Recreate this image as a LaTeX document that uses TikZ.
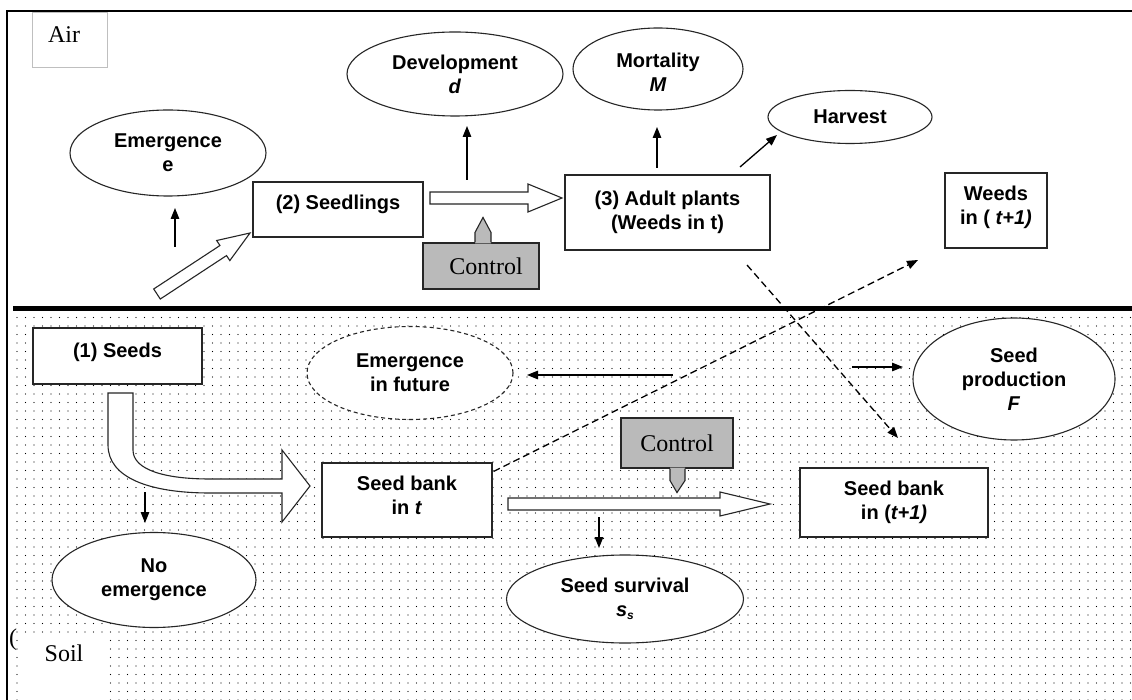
\documentclass[tikz,border=0pt]{standalone}
\usepackage{fontspec}
\setmainfont{Liberation Serif}
\newfontfamily\arialf{Liberation Sans}
\usetikzlibrary{shapes.geometric,arrows.meta,calc,patterns.meta}
\newcommand\hollowarrow[5]{%
  \coordinate (hb) at ($(#2)!#5!(#1)$);
  \draw[hollow] ($(#1)!#3!90:(#2)$) -- ($(hb)!#3!90:(#2)$) -- ($(hb)!#4!90:(#2)$) -- (#2)
    -- ($(hb)!#4!-90:(#2)$) -- ($(hb)!#3!-90:(#2)$) -- ($(#1)!#3!-90:(#2)$) -- cycle;}
\begin{document}
\begin{tikzpicture}[x=1pt,y=-1pt,
  outl/.style={draw=black!85,line width=1.1pt},
  box/.style={outl,fill=white,rectangle,inner sep=0pt,align=center,font=\arialf\bfseries\fontsize{20}{24}\selectfont},
  ell/.style={box,ellipse},
  dell/.style={ell,dash pattern=on 4pt off 3pt},
  arr/.style={draw=black,line width=1.3pt,-{Triangle[length=11pt,width=8.5pt]}},
  dsh/.style={arr,dash pattern=on 7pt off 4pt},
  hollow/.style={outl,fill=white,line join=miter},
  ctrl/.style={outl,fill=black!27,inner sep=0pt,font=\fontsize{24}{28}\selectfont},
  lbl/.style={inner sep=0pt,font=\fontsize{24}{28}\selectfont}
]
\useasboundingbox (0,0) rectangle (1132,700);
\fill[white] (0,0) rectangle (1132,700);
% soil
\fill[pattern={Dots[distance=8.5pt,radius=0.7pt]},pattern color=black] (13,312) rectangle (1132,700);
\draw[line width=5pt] (13,309) -- (1132,309);
\draw[line width=1.5pt] (7,700) -- (7,11) -- (1132,11);

% labels
\draw[draw=black!25,fill=white] (32,12) rectangle (107,67);
\node[lbl] (air) at (64,35) {Air};
\fill[white] (22,635) rectangle (103,700);
\node[lbl] (soil) at (64,653) {Soil};
\node[lbl,anchor=west] (stray) at (9,640) {(};

% air nodes
\node[ell,minimum width=196pt,minimum height=86pt] (emerg) at (168,153) {Emergence\\e};
\node[ell,minimum width=216pt,minimum height=84pt] (devel) at (455,74) {Development\\\textit{d}};
\node[ell,minimum width=170pt,minimum height=82pt,text height=46pt] (mort) at (658,69) {Mortality\\\textit{M}};
\node[ell,minimum width=164pt,minimum height=53pt] (harv) at (850,117) {Harvest};
\node[box,minimum width=170pt,minimum height=55pt,text depth=14pt] (seedl) at (338,209.5) {(2) Seedlings};
\node[box,minimum width=205pt,minimum height=75pt] (adult) at (667.5,212.5) {(3) Adult plants\\(Weeds in t)};
\node[box,minimum width=102pt,minimum height=75pt,text depth=10pt] (weeds) at (996,210.5) {Weeds\\in ( \textit{t+1)}};
\node[ctrl,minimum width=116pt,minimum height=46pt] (ctrl1) at (481,266) {\hspace*{10pt}Control};

% soil nodes
\node[box,minimum width=169pt,minimum height=56pt,text depth=12pt] (seeds) at (117.5,356) {(1) Seeds};
\node[ell,minimum width=204pt,minimum height=95pt] (noem) at (154,580) {No\\emergence};
\node[dell,minimum width=206pt,minimum height=93pt] (fut) at (410,373) {Emergence\\in future};
\node[box,minimum width=170pt,minimum height=74pt,text depth=9pt] (sbt) at (407,500) {Seed bank\\in \textit{t}};
\node[box,minimum width=188pt,minimum height=69pt] (sbt1) at (894,502.5) {Seed bank\\in (\textit{t+1)}};
\node[ell,minimum width=237pt,minimum height=88pt] (surv) at (625,599) {Seed survival\\\textit{s}{\fontsize{12}{12}\selectfont\raisebox{-3pt}{\textit{s}}}};
\node[ell,minimum width=202pt,minimum height=122pt] (prod) at (1014,379) {Seed\\production\\\textit{F}};
\node[ctrl,minimum width=112pt,minimum height=50pt] (ctrl2) at (677,443) {Control};

% callout pointers
\fill[black!27] ($(ctrl1.north)+(-6,1)$) -- ++(0,-11) -- ($(ctrl1.north)+(2,-25)$) -- ($(ctrl1.north)+(10,-10)$) -- ($(ctrl1.north)+(10,1)$) -- cycle;
\draw[outl] ($(ctrl1.north)+(-6,0)$) -- ++(0,-10) -- ($(ctrl1.north)+(2,-25)$) -- ($(ctrl1.north)+(10,-10)$) -- ($(ctrl1.north)+(10,0)$);
\fill[black!27] ($(ctrl2.south)+(-7,-1)$) -- ++(0,13) -- ($(ctrl2.south)+(0,24)$) -- ($(ctrl2.south)+(8,12)$) -- ($(ctrl2.south)+(8,-1)$) -- cycle;
\draw[outl] ($(ctrl2.south)+(-7,0)$) -- ++(0,12) -- ($(ctrl2.south)+(0,24)$) -- ($(ctrl2.south)+(8,12)$) -- ($(ctrl2.south)+(8,0)$);

% hollow arrows
\coordinate (h1s) at (157,294); \coordinate (h1e) at (250,233);
\hollowarrow{h1s}{h1e}{6pt}{12pt}{32pt}
\coordinate (h2s) at (430,198); \coordinate (h2e) at (562,198);
\hollowarrow{h2s}{h2e}{6pt}{14pt}{34pt}
\coordinate (h3s) at (508,504); \coordinate (h3e) at (770,504);
\hollowarrow{h3s}{h3e}{6pt}{12pt}{50pt}
\draw[hollow] (108,393) -- (108,445) .. controls (108,478) and (150,493) .. (210,493) -- (282,493) -- (282,522) -- (310,486) -- (282,450) -- (282,479) -- (210,479) .. controls (165,479) and (133,470) .. (133,450) -- (133,393) -- cycle;

% thin arrows
\coordinate (a1s) at (175,247); \coordinate (a1e) at (175,208);
\draw[arr] (a1s) -- (a1e);
\coordinate (a2s) at (467,180); \coordinate (a2e) at (467,126);
\draw[arr] (a2s) -- (a2e);
\coordinate (a3s) at (657,168); \coordinate (a3e) at (657,127);
\draw[arr] (a3s) -- (a3e);
\coordinate (a4s) at (740,167); \coordinate (a4e) at (777,135);
\draw[arr] (a4s) -- (a4e);
\coordinate (a5s) at (673,375); \coordinate (a5e) at (527,375);
\draw[arr] (a5s) -- (a5e);
\coordinate (a6s) at (852,367); \coordinate (a6e) at (903,367);
\draw[arr] (a6s) -- (a6e);
\coordinate (a7s) at (145,492); \coordinate (a7e) at (145,523);
\draw[arr] (a7s) -- (a7e);
\coordinate (a8s) at (599,517); \coordinate (a8e) at (599,548);
\draw[arr] (a8s) -- (a8e);

% dashed arrows
\coordinate (d1s) at ($(sbt.north east)+(1,9)$);
\coordinate (d1e) at (918,260);
\draw[dsh] (d1s) -- (d1e);
\coordinate (d2s) at (747,265); \coordinate (d2e) at (898,438);
\draw[dsh] (d2s) -- (d2e);
\end{tikzpicture}
\end{document}
